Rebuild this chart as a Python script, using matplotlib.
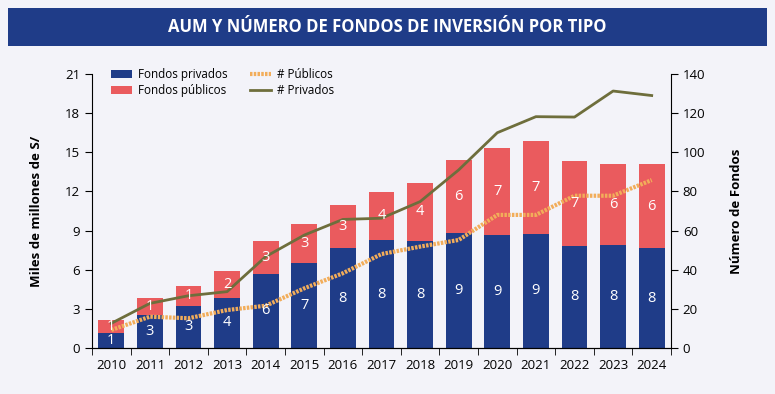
import matplotlib.pyplot as plt
import matplotlib.patches as mpatches
import numpy as np

years = [str(y) for y in range(2010, 2025)]
aum_privados = [1.15, 2.55, 3.25, 3.85, 5.7, 6.55, 7.64, 8.27, 8.22, 8.84, 8.66, 8.74, 7.82, 7.9, 7.64]
aum_publicos = [1.0, 1.3, 1.49, 2.02, 2.52, 2.92, 3.34, 3.71, 4.45, 5.56, 6.64, 7.1, 6.54, 6.17, 6.48]
num_publicos = [9.2, 16.0, 15.2, 19.4, 21.6, 30.5, 38.2, 48.0, 51.8, 55.2, 68.0, 68.0, 77.8, 77.8, 85.8]
num_privados = [12.6, 22.8, 26.7, 28.8, 46.7, 57.7, 65.7, 66.3, 74.8, 91.0, 110.0, 118.2, 118.0, 131.3, 129.0]

BG = "#f3f3f9"
BLUE = "#1f3c88"
RED = "#ea5b5e"
OLIVE = "#6e6e3c"
ORANGE = "#f2ad5a"

plt.rcParams["font.family"] = ["Open Sans", "DejaVu Sans"]

fig = plt.figure(figsize=(7.75, 3.94), dpi=100)
fig.patch.set_facecolor(BG)

# title banner
fig.patches.append(mpatches.Rectangle((8 / 775, 1 - 46 / 394), 759 / 775, 38 / 394,
                                      transform=fig.transFigure, facecolor=BLUE, edgecolor="none"))
fig.text(0.5, 1 - 27 / 394, "AUM Y NÚMERO DE FONDOS DE INVERSIÓN POR TIPO",
         ha="center", va="center", color="white", fontsize=12, fontweight="bold")

ax = fig.add_axes([92 / 775, 46 / 394, 579 / 775, 274 / 394])
ax.set_facecolor(BG)
x = np.arange(len(years))
w = 0.67
b1 = ax.bar(x, aum_privados, w, color=BLUE, label="Fondos privados")
b2 = ax.bar(x, aum_publicos, w, bottom=aum_privados, color=RED, label="Fondos públicos")

ax.set_xlim(-0.5, len(years) - 0.5)
ax.set_ylim(0, 21)
ax.set_yticks(np.arange(0, 22, 3))
ax.set_xticks(x)
ax.set_xticklabels(years)
ax.set_xticks(np.arange(-0.5, len(years), 1), minor=True)
ax.tick_params(axis="x", which="major", length=0, labelsize=9.5, pad=8)
ax.tick_params(axis="x", which="minor", length=5, direction="out")
ax.tick_params(axis="y", labelsize=9.5, length=5, direction="out")
ax.spines["top"].set_visible(False)
ax.spines["right"].set_visible(False)
ax.set_ylabel("Miles de millones de S/", fontsize=9.5, fontweight="bold", labelpad=16)

ax2 = ax.twinx()
l1, = ax2.plot(x, num_publicos, color=ORANGE, lw=3, ls=(0, (0.6, 0.3)), label="# Públicos")
l2, = ax2.plot(x, num_privados, color=OLIVE, lw=2, label="# Privados")
ax2.set_ylim(0, 140)
ax2.set_yticks(np.arange(0, 141, 20))
ax2.tick_params(axis="y", labelsize=9.5, length=5, direction="out")
ax2.spines["top"].set_visible(False)
ax2.spines["left"].set_visible(False)
ax2.set_ylabel("Número de Fondos", fontsize=9.5, fontweight="bold", labelpad=18)

# value labels drawn above the lines
for i in range(len(years)):
    ax2.text(x[i], aum_privados[i] / 2, str(int(round(aum_privados[i]))), transform=ax.transData,
             ha="center", va="center", color="white", fontsize=10.5)
    ax2.text(x[i], aum_privados[i] + aum_publicos[i] / 2, str(int(round(aum_publicos[i]))),
             transform=ax.transData, ha="center", va="center", color="white", fontsize=10.5)

ax2.legend([b1, b2, l1, l2], ["Fondos privados", "Fondos públicos", "# Públicos", "# Privados"],
           ncol=2, loc="upper left", bbox_to_anchor=(0.015, 1.06), frameon=False, fontsize=8.4,
           handlelength=1.8, handleheight=0.75, handletextpad=0.5, columnspacing=1.9,
           labelspacing=0.25)

fig.savefig("out.png", dpi=100, facecolor=BG)
